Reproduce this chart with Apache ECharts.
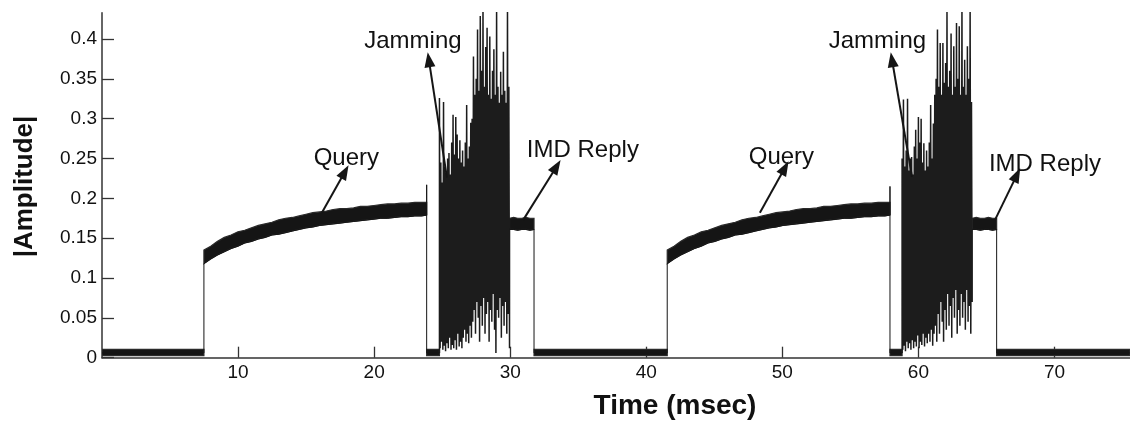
<!DOCTYPE html>
<html>
<head>
<meta charset="utf-8">
<script src="https://cdn.jsdelivr.net/npm/echarts@6/dist/echarts.min.js"></script>
<style>
  html, body { margin: 0; padding: 0; background: #fff; }
  #chart { width: 1130px; height: 424px; }
</style>
</head>
<body>
<div id="chart"></div>
<script>
// axis ranges and ticks
const timeMax = 75.55;
const ampMax = 0.433;
const timeTicks = [10, 20, 30, 40, 50, 60, 70];
const ampTicks = [0, 0.05, 0.1, 0.15, 0.2, 0.25, 0.3, 0.35, 0.4];

// noise floor between transmissions (msec)
const quietStart = [0, 23.86, 31.75, 57.91, 65.75];
const quietEnd = [7.49, 24.8, 41.54, 58.8, 75.55];
const quietTop = 0.0105;
const quietBottom = 0.0025;
const quietLevel = 0.006;

// programmer query: onset times and band
const queryOnset = [7.49, 41.54];
const queryOffset = [0, 0.5, 1, 1.5, 2, 2.5, 3, 3.5, 4, 4.5, 5, 5.5, 6, 6.5, 7, 7.5, 8,
  8.5, 9, 9.5, 10, 10.5, 11, 11.5, 12, 12.5, 13, 13.5, 14, 14.5, 15, 15.5, 16, 16.37];
const queryTop = [0.135, 0.140, 0.146, 0.151, 0.154, 0.158, 0.160, 0.163, 0.166, 0.168,
  0.170, 0.173, 0.175, 0.176, 0.178, 0.180, 0.182, 0.183, 0.184, 0.186,
  0.187, 0.187, 0.188, 0.190, 0.190, 0.191, 0.192, 0.193, 0.193, 0.194,
  0.194, 0.195, 0.195, 0.195];
const queryBottom = [0.118, 0.124, 0.129, 0.133, 0.137, 0.140, 0.144, 0.146, 0.149, 0.151,
  0.154, 0.155, 0.157, 0.159, 0.161, 0.163, 0.164, 0.166, 0.167, 0.168,
  0.169, 0.170, 0.171, 0.172, 0.173, 0.174, 0.175, 0.175, 0.176, 0.177,
  0.177, 0.178, 0.178, 0.179];

// short spike at the end of each query
const spikeTime = [23.86, 57.91];
const spikePeak = [0.217, 0.215];

// jamming bursts, one peak and one trough per sample
const jamStart = [24.8, 58.8];
const jamStep = 0.1;
const jam1High = [0.326, 0.245, 0.22, 0.321, 0.24, 0.232, 0.25, 0.257, 0.23, 0.27,
  0.305, 0.255, 0.302, 0.28, 0.25, 0.273, 0.245, 0.26, 0.24, 0.27,
  0.317, 0.25, 0.265, 0.295, 0.3, 0.378, 0.33, 0.35, 0.412, 0.335,
  0.429, 0.36, 0.44, 0.34, 0.39, 0.414, 0.33, 0.403, 0.325, 0.36,
  0.387, 0.33, 0.44, 0.34, 0.32, 0.359, 0.33, 0.384, 0.335, 0.32,
  0.44, 0.34];
const jam1Low = [0.012, 0.02, 0.01, 0.015, 0.008, 0.018, 0.012, 0.025, 0.01, 0.016,
  0.012, 0.022, 0.01, 0.03, 0.014, 0.02, 0.012, 0.025, 0.035, 0.02,
  0.03, 0.018, 0.04, 0.025, 0.045, 0.06, 0.03, 0.07, 0.05, 0.02,
  0.065, 0.04, 0.075, 0.03, 0.055, 0.07, 0.02, 0.06, 0.045, 0.08,
  0.035, 0.006, 0.06, 0.05, 0.075, 0.025, 0.065, 0.04, 0.07, 0.03,
  0.055, 0.012];
const jam2High = [0.25, 0.324, 0.24, 0.26, 0.325, 0.235, 0.25, 0.252, 0.23, 0.265,
  0.286, 0.25, 0.302, 0.27, 0.30, 0.245, 0.269, 0.235, 0.26, 0.24,
  0.27, 0.317, 0.25, 0.294, 0.33, 0.35, 0.412, 0.34, 0.395, 0.33,
  0.395, 0.345, 0.37, 0.434, 0.34, 0.36, 0.407, 0.33, 0.391, 0.34,
  0.42, 0.35, 0.416, 0.33, 0.44, 0.34, 0.374, 0.33, 0.391, 0.35,
  0.44, 0.321];
const jam2Low = [0.01, 0.015, 0.008, 0.02, 0.012, 0.018, 0.01, 0.022, 0.012, 0.02,
  0.014, 0.028, 0.012, 0.02, 0.016, 0.03, 0.014, 0.025, 0.018, 0.03,
  0.02, 0.035, 0.015, 0.03, 0.04, 0.02, 0.055, 0.03, 0.07, 0.045,
  0.02, 0.06, 0.035, 0.08, 0.04, 0.065, 0.025, 0.075, 0.05, 0.085,
  0.03, 0.06, 0.04, 0.08, 0.05, 0.07, 0.035, 0.085, 0.045, 0.065,
  0.03, 0.07];

// IMD reply
const replyStart = [29.95, 63.95];
const replyOffset = [0, 0.3, 0.6, 0.9, 1.2, 1.5, 1.8];
const replyTop = [0.175, 0.176, 0.175, 0.175, 0.176, 0.175, 0.175];
const replyBottom = [0.161, 0.161, 0.160, 0.161, 0.161, 0.160, 0.161];

// annotations: label position and arrow tail -> tip, in data units
const noteText = ["Query", "Jamming", "IMD Reply", "Query", "Jamming", "IMD Reply"];
const notePos = [[17.96, 0.2503], [22.85, 0.3973], [35.34, 0.2603],
  [49.93, 0.2509], [56.99, 0.3967], [69.3, 0.2427]];
const arrowFrom = [[16.16, 0.1818], [25.35, 0.226], [30.96, 0.173],
  [48.35, 0.1818], [59.53, 0.227], [65.63, 0.173]];
const arrowTo = [[17.85, 0.2333], [24.02, 0.374], [33.41, 0.240],
  [50.19, 0.2383], [58.06, 0.374], [67.24, 0.2295]];

const FONT = "'Liberation Sans', Arial, Helvetica, sans-serif";
const INK = "#151515";

// filled noise bands
const bands = [];
quietStart.forEach((s, i) => {
    bands.push({ t: [s, quietEnd[i]], top: [quietTop, quietTop], bottom: [quietBottom, quietBottom] });
});
queryOnset.forEach(t0 => {
    bands.push({ t: queryOffset.map(o => t0 + o), top: queryTop, bottom: queryBottom });
});
replyStart.forEach(t0 => {
    bands.push({ t: replyOffset.map(o => t0 + o), top: replyTop, bottom: replyBottom });
});

function renderBand(params, api) {
    const b = bands[api.value(0)];
    const pts = [];
    b.t.forEach((t, i) => pts.push(api.coord([t, b.top[i]])));
    for (let i = b.t.length - 1; i >= 0; i--) {
        pts.push(api.coord([b.t[i], b.bottom[i]]));
    }
    return {
        type: "polygon",
        shape: { points: pts },
        style: { fill: INK, stroke: "#2a2a2a", lineWidth: 1.2 }
    };
}

// thin trace: step edges and the spike before each jamming burst
const trace = [[0, quietLevel]];
for (let k = 0; k < 2; k++) {
    const t0 = queryOnset[k];
    trace.push([t0, quietLevel]);
    queryOffset.forEach((o, i) => trace.push([t0 + o, queryBottom[i]]));
    trace.push([spikeTime[k], spikePeak[k]], [spikeTime[k], quietLevel], [jamStart[k], quietLevel]);
    trace.push([jamStart[k], quietLevel], null);
    replyOffset.forEach((o, i) => trace.push([replyStart[k] + o, replyBottom[i]]));
    const rEnd = replyStart[k] + replyOffset[replyOffset.length - 1];
    trace.push([rEnd, quietLevel]);
}
trace.push([timeMax, quietLevel]);

// jamming bursts: zig-zag between peaks and troughs
const jamHigh = [jam1High, jam2High];
const jamLow = [jam1Low, jam2Low];
const jamSeries = jamHigh.map((highs, k) => {
    const pts = [[jamStart[k], quietLevel]];
    highs.forEach((h, i) => {
        pts.push([jamStart[k] + i * jamStep, h]);
        pts.push([jamStart[k] + (i + 0.5) * jamStep, jamLow[k][i]]);
    });
    pts.push([replyStart[k], replyBottom[0]]);
    return {
        type: "line",
        data: pts,
        showSymbol: false,
        clip: true,
        silent: true,
        lineStyle: { color: "#1c1c1c", width: 1.5 }
    };
});

const chart = echarts.init(document.getElementById("chart"), null, { renderer: "canvas" });

chart.setOption({
    animation: false,
    backgroundColor: "#fff",
    grid: { left: 102, right: 0, top: 12.7, bottom: 66.3 },
    xAxis: {
        type: "value",
        min: 0,
        max: timeMax,
        splitLine: { show: false },
        axisLine: { show: true, lineStyle: { color: "#333", width: 1.5 } },
        axisTick: { show: true, inside: true, length: 11, customValues: timeTicks, lineStyle: { color: "#333", width: 1.3 } },
        axisLabel: { customValues: timeTicks, fontSize: 19, color: "#111", fontFamily: FONT, margin: 6 }
    },
    yAxis: {
        type: "value",
        min: 0,
        max: ampMax,
        splitLine: { show: false },
        axisLine: { show: true, lineStyle: { color: "#333", width: 1.5 } },
        axisTick: { show: true, inside: true, length: 12, customValues: ampTicks, lineStyle: { color: "#333", width: 1.3 } },
        axisLabel: { customValues: ampTicks, fontSize: 19, color: "#111", fontFamily: FONT, margin: 5 }
    },
    graphic: [
        {
            type: "text", x: 675, y: 406,
            style: { text: "Time (msec)", font: "bold 28px " + FONT, fill: "#111", textAlign: "center", textVerticalAlign: "middle" }
        },
        {
            type: "text", x: 24.5, y: 186.5, rotation: Math.PI / 2,
            style: { text: "|Amplitude|", font: "bold 26px " + FONT, fill: "#111", textAlign: "center", textVerticalAlign: "middle" }
        }
    ],
    series: [
        {
            type: "custom",
            renderItem: renderBand,
            clip: true,
            silent: true,
            data: bands.map((b, i) => [i, 0])
        },
        ...jamSeries,
        {
            type: "line",
            data: trace,
            showSymbol: false,
            connectNulls: false,
            clip: true,
            silent: true,
            lineStyle: { color: INK, width: 1 },
            markLine: {
                silent: true,
                symbol: ["none", "triangle"],
                symbolSize: [11, 15],
                label: { show: false },
                lineStyle: { color: INK, width: 2, type: "solid" },
                data: arrowFrom.map((p, i) => [{ coord: p }, { coord: arrowTo[i] }])
            },
            markPoint: {
                silent: true,
                symbol: "circle",
                symbolSize: 1,
                itemStyle: { color: "rgba(0,0,0,0)" },
                label: { show: true, position: "inside", fontSize: 24, color: "#111", fontFamily: FONT },
                data: notePos.map((p, i) => ({ coord: p, value: noteText[i], label: { formatter: noteText[i] } }))
            }
        }
    ]
});
</script>
</body>
</html>
